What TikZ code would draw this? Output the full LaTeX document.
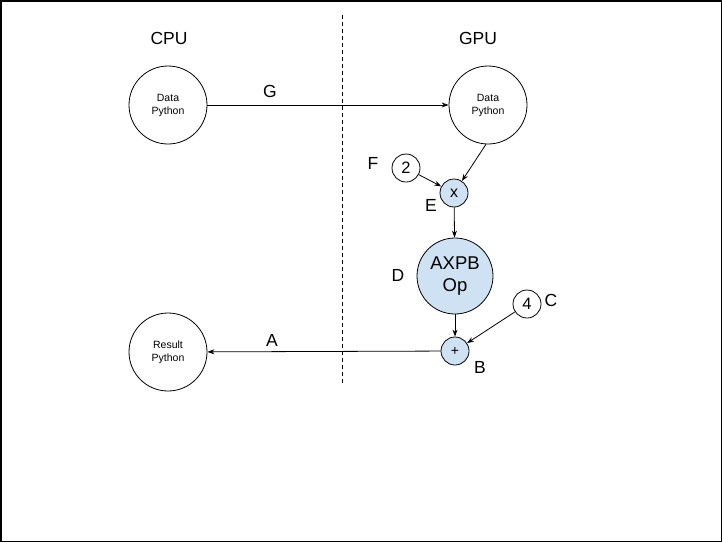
\documentclass[tikz,border=0pt]{standalone}
\usepackage{fontspec}
\setmainfont{Liberation Sans}
\usetikzlibrary{arrows.meta}
\definecolor{opblue}{HTML}{CFE2F3}

\tikzset{
    bigcirc/.style={draw, circle, minimum size=78pt, inner sep=0pt, line width=0.8pt, align=center, font=\fontsize{10.5}{13}\selectfont},
    smallcirc/.style={draw, circle, minimum size=28pt, inner sep=0pt, line width=0.8pt, font=\fontsize{16.5}{18}\selectfont},
    lbl/.style={font=\fontsize{17.5}{20}\selectfont},
    flow/.style={-{Stealth[length=7pt,width=5pt]}, line width=0.8pt}
}

\begin{document}
\begin{tikzpicture}[x=1pt,y=-1pt]
    \useasboundingbox (0,0) rectangle (722,542);
    \draw[line width=1.5pt] (0.75,0.75) rectangle (721.25,541.25);

    % CPU / GPU split
    \node[lbl] (cpu) at (169,38) {CPU};
    \node[lbl] (gpu) at (478,38) {GPU};
    \coordinate (splittop) at (342,15);
    \coordinate (splitbot) at (342,385);
    \draw[dashed, dash pattern=on 4pt off 3pt, line width=0.8pt] (splittop) -- (splitbot);

    % CPU side
    \node[bigcirc] (cdata) at (168,105) {Data\\Python};
    \node[bigcirc] (result) at (168,352) {Result\\Python};

    % GPU side
    \node[bigcirc] (gdata) at (488,105) {Data\\Python};
    \node[smallcirc] (two) at (406,168) {2};
    \node[smallcirc, fill=opblue, font=\fontsize{16}{18}\selectfont] (mul) at (454,193) {x};
    \node[bigcirc, fill=opblue, minimum size=76pt, font=\fontsize{18.5}{22}\selectfont] (axpb) at (455,276) {AXPB\\Op};
    \node[smallcirc] (four) at (527,304) {4};
    \node[smallcirc, fill=opblue, font=\fontsize{14}{16}\selectfont] (add) at (455,351) {+};

    % Letters
    \node[lbl] (lg) at (270,91) {G};
    \node[lbl] (lf) at (373,163) {F};
    \node[lbl] (le) at (431,205) {E};
    \node[lbl] (ld) at (398,275) {D};
    \node[lbl] (lc) at (551,300) {C};
    \node[lbl] (lb) at (480,367) {B};
    \node[lbl] (la) at (272,340) {A};

    % Connectors
    \draw[flow] (cdata) -- (gdata);
    \draw[flow] (gdata.267) -- (mul);
    \draw[flow] (two) -- (mul);
    \draw[flow] (mul) -- (axpb);
    \draw[flow] (axpb) -- (add);
    \draw[flow] (four) -- (add);
    \draw[flow] (add) -- (result);
\end{tikzpicture}
\end{document}
